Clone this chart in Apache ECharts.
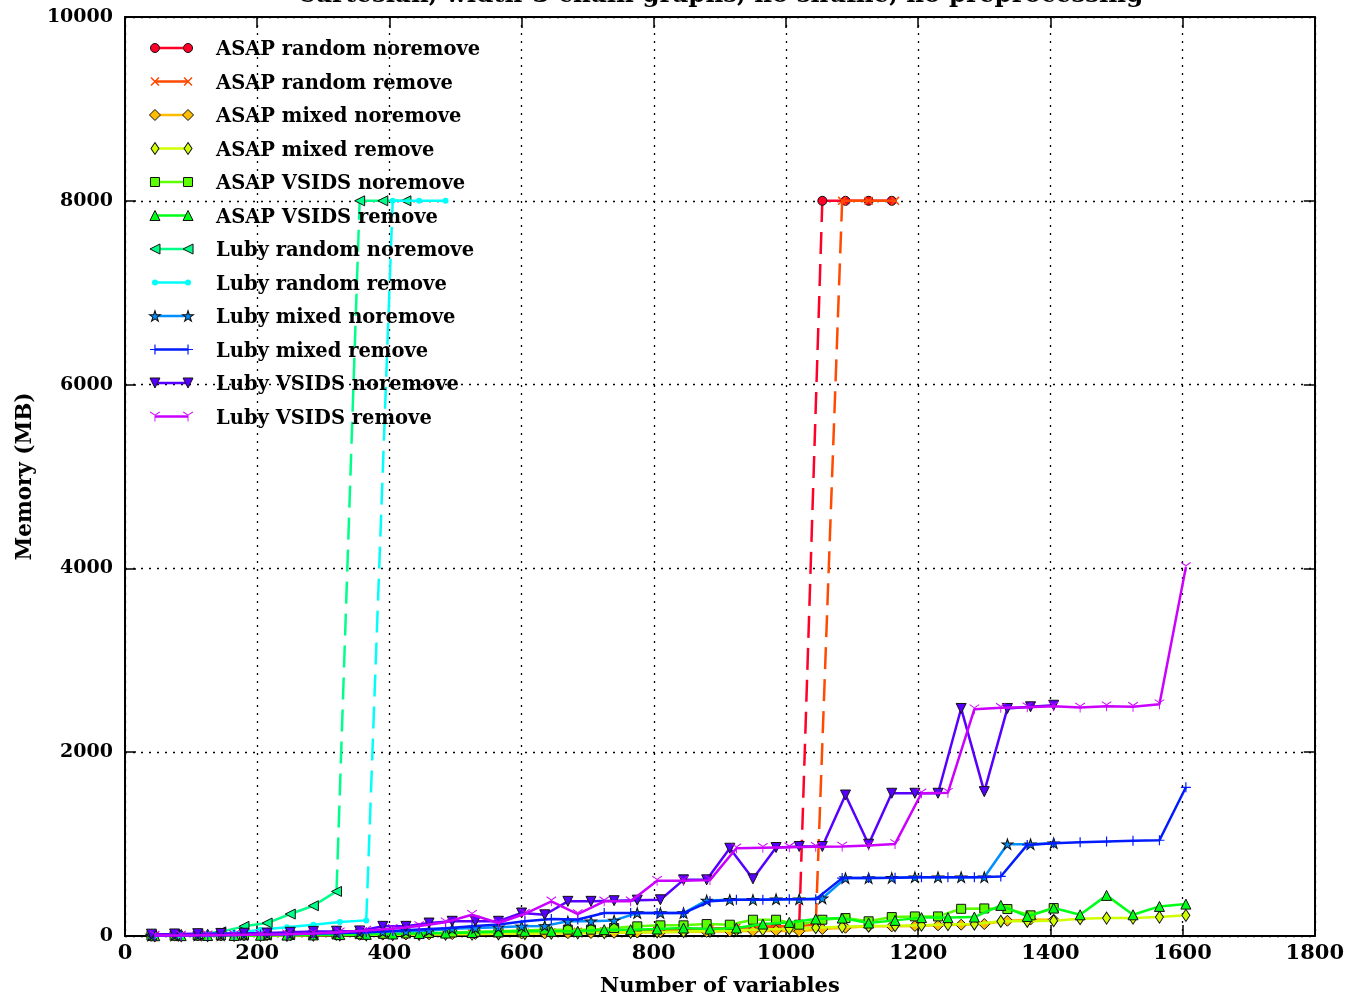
<!DOCTYPE html>
<html>
<head>
<meta charset="utf-8">
<title>Memory usage</title>
<script src="https://cdn.jsdelivr.net/npm/echarts@6/dist/echarts.min.js"></script>
<style>
  html, body { margin: 0; padding: 0; background: #fff; }
  #chart { width: 1347px; height: 1002px; }
</style>
</head>
<body>
<div id="chart"></div>
<script>
// Runs that ran out of memory are recorded at the cap value.
const MEM_CAP = 8000;

// Instance sizes (number of variables)
const xNoremove = [40, 75, 110, 145, 180, 215, 250, 285, 320, 355, 390, 425, 460, 495, 530, 565, 600, 635, 670, 705,
                   740, 775, 810, 845, 880, 915, 950, 985, 1020, 1055, 1090, 1125, 1160, 1195, 1230, 1265, 1300, 1335, 1370, 1405];
const xRemove = [45, 85, 125, 165, 205, 245, 285, 325, 365, 405, 445, 485, 525, 565, 605, 645, 685, 725, 765, 805,
                 845, 885, 925, 965, 1005, 1045, 1085, 1125, 1165, 1205, 1245, 1285, 1325, 1365, 1405, 1445, 1485, 1525, 1565, 1605];

const seriesNames = [
  'ASAP random noremove', 'ASAP random remove', 'ASAP mixed noremove', 'ASAP mixed remove',
  'ASAP VSIDS noremove', 'ASAP VSIDS remove', 'Luby random noremove', 'Luby random remove',
  'Luby mixed noremove', 'Luby mixed remove', 'Luby VSIDS noremove', 'Luby VSIDS remove'
];

// Memory (MB)
const asapRandomNoremove = [4, 4, 5, 6, 7, 8, 10, 12, 14, 16, 18, 21, 24, 27, 30, 33, 37, 41, 46, 51,
                            56, 62, 68, 74, 80, 88, 96, 104, 112, 8000, 8000, 8000, 8000];
const asapRandomRemove = [3, 4, 5, 6, 7, 9, 11, 13, 15, 18, 21, 24, 28, 32, 36, 41, 46, 52, 58, 65,
                          72, 80, 90, 100, 110, 120, 8000, 8000, 8000];
const asapMixedNoremove = [3, 4, 5, 6, 7, 8, 9, 10, 12, 13, 15, 17, 19, 21, 23, 25, 27, 29, 31, 33,
                           35, 38, 40, 43, 45, 51, 55, 58, 51, 76, 90, 105, 105, 110, 116, 123, 130, 166, 180, 177];
const asapMixedRemove = [3, 4, 5, 6, 7, 8, 10, 11, 13, 15, 17, 19, 21, 24, 27, 30, 33, 36, 40, 44,
                         48, 55, 62, 70, 80, 90, 100, 108, 112, 118, 124, 130, 160, 160, 166, 188, 195, 195, 206, 225];
const asapVsidsNoremove = [3, 4, 5, 6, 8, 10, 12, 14, 17, 20, 24, 28, 33, 38, 45, 52, 60, 69, 69, 69,
                           87, 105, 116, 116, 130, 123, 177, 177, 123, 177, 195, 160, 206, 213, 213, 296, 300, 293, 225, 304];
const asapVsidsRemove = [3, 4, 5, 6, 8, 10, 12, 15, 18, 22, 27, 32, 38, 45, 51, 51, 51, 69, 69, 76,
                         87, 76, 87, 130, 148, 185, 195, 141, 170, 200, 200, 206, 333, 213, 304, 231, 442, 231, 322, 347];
const lubyRandomNoremove = [8, 12, 20, 45, 105, 141, 239, 329, 485, 8000, 8000, 8000];
const lubyRandomRemove = [5, 8, 15, 30, 69, 94, 123, 152, 170, 8000, 8000, 8000];
const lubyMixedNoremove = [5, 6, 8, 10, 14, 18, 22, 28, 33, 38, 45, 51, 60, 80, 87, 94, 105, 110, 160, 160,
                           170, 250, 250, 250, 387, 394, 394, 400, 400, 410, 630, 630, 633, 640, 640, 640, 640, 999, 999, 1010];
const lubyMixedRemove = [5, 6, 8, 12, 16, 20, 26, 32, 40, 55, 70, 85, 105, 125, 160, 185, 180, 250, 250, 250,
                         250, 377, 394, 394, 400, 400, 630, 630, 633, 638, 640, 640, 648, 991, 1010, 1020, 1028, 1036, 1042, 1618];
const lubyVsidsNoremove = [20, 22, 25, 28, 30, 32, 40, 50, 52, 55, 105, 105, 141, 160, 160, 160, 250, 231, 377, 377,
                           384, 390, 394, 611, 611, 955, 622, 963, 974, 974, 1534, 999, 1553, 1553, 1553, 2476, 1571, 2476, 2494, 2511];
const lubyVsidsRemove = [5, 6, 8, 10, 15, 20, 28, 40, 60, 80, 110, 150, 231, 141, 242, 377, 239, 377, 377, 601,
                         601, 608, 955, 960, 965, 970, 974, 985, 1002, 1553, 1560, 2468, 2483, 2490, 2501, 2486, 2501, 2494, 2522, 4014];

const xTicks = { min: 0, max: 1800, step: 200 };
const yTicks = { min: 0, max: 10000, step: 2000 };

// Marker shapes
const MARK = {
  cross: 'path://M0,1.2L1.2,0L10,8.8L8.8,10Z M8.8,0L10,1.2L1.2,10L0,8.8Z',
  plus: 'path://M4.4,0H5.6V4.4H10V5.6H5.6V10H4.4V5.6H0V4.4H4.4Z',
  star: 'path://M50,0L61.2,34.6L97.6,34.5L68.1,55.9L79.4,90.5L50,69L20.6,90.5L31.9,55.9L2.4,34.5L38.8,34.6Z',
  triDown: 'path://M4.6,5L5.4,5L5.4,10L4.6,10Z M5.2,4.65L0.87,2.15L0.47,2.85L4.8,5.35Z M4.8,4.65L9.13,2.15L9.53,2.85L5.2,5.35Z'
};

const defs = [
  { y: asapRandomNoremove, x: xNoremove, color: '#ff0029', symbol: 'circle', size: 9, edge: true },
  { y: asapRandomRemove, x: xRemove, color: '#ff4a00', symbol: MARK.cross, size: 9, edge: false },
  { y: asapMixedNoremove, x: xNoremove, color: '#ffbc00', symbol: 'diamond', size: [11, 11], edge: true },
  { y: asapMixedRemove, x: xRemove, color: '#cfff00', symbol: 'diamond', size: [8, 12], edge: true },
  { y: asapVsidsNoremove, x: xNoremove, color: '#5cff00', symbol: 'rect', size: 9, edge: true },
  { y: asapVsidsRemove, x: xRemove, color: '#00ff17', symbol: 'triangle', size: 10, edge: true },
  { y: lubyRandomNoremove, x: xNoremove, color: '#00ff89', symbol: 'triangle', size: 10, rotate: 90, edge: true },
  { y: lubyRandomRemove, x: xRemove, color: '#00fffa', symbol: 'circle', size: 6, edge: false },
  { y: lubyMixedNoremove, x: xNoremove, color: '#008fff', symbol: MARK.star, size: [11, 10.5], edge: true },
  { y: lubyMixedRemove, x: xRemove, color: '#001cff', symbol: MARK.plus, size: 10, edge: false },
  { y: lubyVsidsNoremove, x: xNoremove, color: '#5700ff', symbol: 'triangle', size: 10, rotate: 180, edge: true },
  { y: lubyVsidsRemove, x: xRemove, color: '#cb00ff', symbol: MARK.triDown, size: 10, edge: false }
];

function lineLook(d, i) {
  return {
    type: 'line',
    symbol: d.symbol,
    symbolSize: d.size,
    symbolRotate: d.rotate || 0,
    showAllSymbol: true,
    lineStyle: { color: d.color, width: 2.5 },
    itemStyle: { color: d.color, borderColor: d.edge ? '#111' : d.color, borderWidth: d.edge ? 1 : 0 },
    emphasis: { disabled: true },
    z: 2 + i
  };
}

const series = [];
defs.forEach((d, i) => {
  const name = seriesNames[i];
  const pts = d.y.map((v, k) => [d.x[k], v]);
  const below = pts.filter(p => p[1] < MEM_CAP);
  const capped = pts.filter(p => p[1] >= MEM_CAP);
  const common = Object.assign(lineLook(d, i), { name: name });
  series.push(Object.assign({}, common, { data: below }));
  if (capped.length) {
    // dashed jump from the last measured run to the memory cap
    series.push({
      type: 'line', name: name, symbol: 'none', z: 2 + i,
      lineStyle: { color: d.color, width: 2.5, type: [22, 10] },
      emphasis: { disabled: true },
      data: [below[below.length - 1], capped[0]]
    });
    series.push(Object.assign({}, common, { data: capped }));
  }
  // legend key: a short line with a marker at each end, in its own small grid
  series.push(Object.assign(lineLook(d, i), {
    name: 'key ' + i, xAxisIndex: 2, yAxisIndex: 2, clip: false, silent: true, z: 101,
    data: [[0, i], [1, i]]
  }));
});

const FONT = 'DejaVu Serif';
const txt = { fontFamily: FONT, fontWeight: 'bold', fontSize: 19, color: '#000' };
const frameLine = { show: true, onZero: false, lineStyle: { color: '#000', width: 2 } };
const tick = { show: true, inside: true, length: 11, lineStyle: { color: '#000', width: 1.5 } };
const grid = { show: true, lineStyle: { color: '#000', width: 1.3, type: [2, 6] } };
const plain = v => String(v);

const option = {
  animation: false,
  backgroundColor: '#fff',
  title: {
    text: 'Cartesian, width-3 chain graphs, no shuffle, no preprocessing',
    left: 720, top: -17, padding: 0, textAlign: 'center',
    textStyle: Object.assign({}, txt, { fontSize: 24.5 })
  },
  grid: [
    { left: 125, right: 31, top: 17, bottom: 64 },
    { left: 150, top: 48, width: 43, height: 368.5, show: false }
  ],
  legend: {
    data: seriesNames,
    orient: 'vertical',
    left: 150, top: 40,
    padding: 0,
    itemWidth: 43, itemHeight: 12.5, itemGap: 13.5,
    selectedMode: false,
    z: 100,
    itemStyle: { opacity: 0 },
    lineStyle: { opacity: 0 },
    textStyle: Object.assign({}, txt, { fontSize: 19.5, lineHeight: 20, padding: [0, 0, 0, 17] })
  },
  xAxis: [
    {
      type: 'value', position: 'bottom', min: xTicks.min, max: xTicks.max, interval: xTicks.step,
      axisLine: frameLine, axisTick: tick, splitLine: grid,
      axisLabel: Object.assign({}, txt, { fontSize: 21, margin: 7, formatter: plain }),
      name: 'Number of variables', nameLocation: 'middle', nameGap: 40,
      nameTextStyle: Object.assign({}, txt, { fontSize: 21 })
    },
    {
      type: 'value', position: 'top', min: xTicks.min, max: xTicks.max, interval: xTicks.step,
      axisLine: frameLine, axisTick: tick, splitLine: { show: false }, axisLabel: { show: false }
    },
    { type: 'value', gridIndex: 1, min: -0.15, max: 1.15, show: false }
  ],
  yAxis: [
    {
      type: 'value', position: 'left', min: yTicks.min, max: yTicks.max, interval: yTicks.step,
      axisLine: frameLine, axisTick: tick, splitLine: grid,
      axisLabel: Object.assign({}, txt, { margin: 12, formatter: plain }),
      name: 'Memory (MB)', nameLocation: 'middle', nameGap: 88,
      nameTextStyle: Object.assign({}, txt, { fontSize: 21.5 })
    },
    {
      type: 'value', position: 'right', min: yTicks.min, max: yTicks.max, interval: yTicks.step,
      axisLine: frameLine, axisTick: tick, splitLine: { show: false }, axisLabel: { show: false }
    },
    { type: 'value', gridIndex: 1, min: 0, max: 11, inverse: true, show: false }
  ],
  series: series
};

const chart = echarts.init(document.getElementById('chart'), null, { renderer: 'canvas' });
chart.setOption(option);
</script>
</body>
</html>
